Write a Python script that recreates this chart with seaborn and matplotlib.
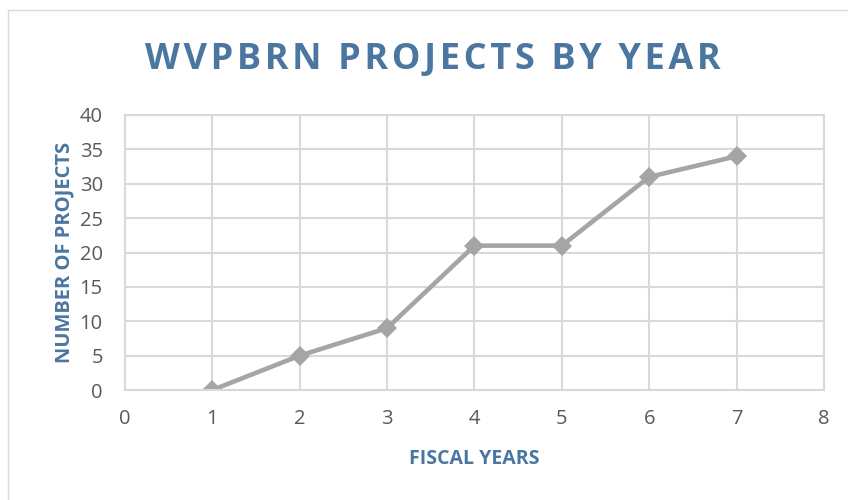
import numpy as np
import pandas as pd
import seaborn as sns
import matplotlib.pyplot as plt
from matplotlib.patches import Rectangle

# data
fiscal_years = [1, 2, 3, 4, 5, 6, 7]
projects = [0, 5, 9, 21, 21, 31, 34]

df = pd.DataFrame({"year": fiscal_years, "projects": projects})

sns.set_theme(style="white")
plt.rcParams['font.family'] = ['Open Sans', 'DejaVu Sans']

blue = "#4a76a0"
grid_c = "#d9d9d9"
tick_c = "#595959"

fig = plt.figure(figsize=(8.48, 5.0), dpi=100)
ax = fig.add_axes([0.1474, 0.22, 0.8243, 0.55])

sns.lineplot(data=df, x="year", y="projects", ax=ax, color="#a5a5a5",
             linewidth=3.3, marker="D", markersize=10, markeredgewidth=0)

ax.set_xlim(0, 8)
ax.set_ylim(0, 40)
ax.set_xticks(np.arange(0, 9, 1))
ax.set_yticks(np.arange(0, 41, 5))
ax.grid(True, color=grid_c, linewidth=1.5)
ax.set_axisbelow(True)
for s in ax.spines.values():
    s.set_color(grid_c)
    s.set_linewidth(1.5)
ax.tick_params(axis="both", length=0, labelsize=14.5, labelcolor=tick_c)
ax.tick_params(axis="x", pad=14)
ax.tick_params(axis="y", pad=16)

ax.set_xlabel("FISCAL YEARS", fontsize=14, fontweight="bold", color=blue, labelpad=14)
ax.set_ylabel("NUMBER OF PROJECTS", fontsize=14.5, fontweight="bold", color=blue, labelpad=4)

title = "WVPBRN PROJECTS BY YEAR"
fig.text(0.51, 0.879, "\u200a".join(title), ha="center", va="center",
         fontsize=26, fontweight="bold", color=blue)

# outer chart border
fig.patches.append(Rectangle((0.009, -0.01), 1.2, 0.99, transform=fig.transFigure,
                             fill=False, edgecolor="#d9d9d9", linewidth=1))

fig.savefig("out.png", dpi=100)
